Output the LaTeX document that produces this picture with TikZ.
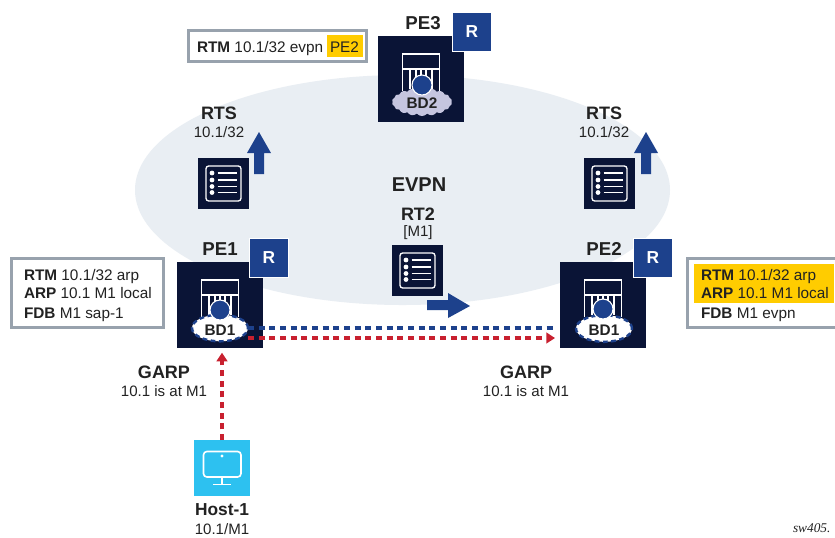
\documentclass[tikz,border=0pt]{standalone}
\usepackage{fontspec}
\setmainfont{Liberation Sans}
\newfontfamily\serifit{Liberation Serif}
\usetikzlibrary{shapes.symbols,shapes.geometric,arrows.meta}
\definecolor{navy}{HTML}{0A1436}
\definecolor{rblue}{HTML}{1D418C}
\definecolor{evpn}{HTML}{E9EEF3}
\definecolor{lav}{HTML}{C5C5DF}
\definecolor{hostc}{HTML}{2DC1F0}
\definecolor{boxgray}{HTML}{98A2AD}
\definecolor{hl}{HTML}{FFCC00}
\definecolor{redl}{HTML}{C8202F}
\definecolor{txt}{HTML}{222222}
\tikzset{
  x=0.75pt,y=-0.75pt,
  every node/.style={text=txt,inner sep=0pt,outer sep=0pt},
  lbl/.style={font=\fontsize{11.3pt}{13pt}\selectfont,align=center},
  pelbl/.style={font=\fontsize{14pt}{16pt}\selectfont\bfseries},
  rtslbl/.style={font=\fontsize{13.5pt}{16pt}\selectfont\bfseries},
  garp/.style={font=\fontsize{13.5pt}{16pt}\selectfont\bfseries},
  infobox/.style={draw=boxgray,line width=2.2pt,fill=white},
  infotext/.style={font=\fontsize{11.5pt}{13pt}\selectfont,anchor=base west},
  pebox/.style={fill=navy,minimum width=64.5pt,minimum height=64.5pt},
  rbox/.style={fill=rblue,draw=white,line width=0.6pt,minimum width=29.5pt,minimum height=29.5pt,
     text=white,font=\fontsize{13pt}{15pt}\selectfont\bfseries},
  iconbox/.style={fill=navy,minimum width=38.5pt,minimum height=38.5pt},
  hostbox/.style={fill=hostc,minimum width=42pt,minimum height=42pt},
  bdlocal/.style={ellipse,fill=white,draw=rblue,line width=1.8pt,dash pattern=on 3.6pt off 2.6pt,
     minimum width=42pt,minimum height=20pt},
  bdcloud/.style={cloud,cloud puffs=18,cloud puff arc=100,aspect=2.2,fill=lav,
     minimum width=45pt,minimum height=21pt},
  bdtext/.style={font=\fontsize{11.5pt}{13pt}\selectfont\bfseries},
  bluelink/.style={draw=rblue,line width=2.4pt,dash pattern=on 4.5pt off 3.5pt},
  redlink/.style={draw=redl,line width=2.4pt,dash pattern=on 4.5pt off 3.5pt,-{Triangle[length=6.5pt,width=8pt]}},
  pics/building/.style={code={
    \draw[white,line width=0.9pt] (-18.5,12) -- (-18.5,-25) -- (18.5,-25) -- (18.5,12);
    \draw[white,line width=0.9pt] (-18.5,-10) -- (18.5,-10);
    \foreach \dx in {-11,-5,5,11} \draw[white,line width=0.9pt] (\dx,-10) -- (\dx,10);
    \draw[white,line width=0.9pt] (0,-10) -- (0,-4);
  }},
  pics/listicon/.style={code={
    \draw[white,line width=1pt,rounded corners=2pt] (-17.5,-17.5) rectangle (17.5,17.5);
    \foreach \dy in {-10.5,-3.5,3,9}{
      \fill[white] (-11.5,\dy) circle [radius=1.8pt];
      \draw[white,line width=0.9pt] (-6,\dy) -- (13.5,\dy);
    }
  }},
  pics/uparrow/.style={code={
    \fill[rblue] (0,-21) -- (12,0) -- (5,0) -- (5,21) -- (-5,21) -- (-5,0) -- (-12,0) -- cycle;
  }},
}
\begin{document}
\begin{tikzpicture}
\useasboundingbox (0,0) rectangle (835,537);
\fill[white] (0,0) rectangle (835,537);
\fill[evpn] (402.5,190) ellipse [x radius=267.5,y radius=115];

% info boxes
\node[infobox,minimum width=133.5pt,minimum height=23.3pt] (infoThree) at (277.5,46) {};
\fill[hl] (327,35) rectangle (363,57);
\node[infotext] at (197,52) {\textbf{RTM} 10.1/32 evpn};
\node[infotext] at (330,52) {PE2};

\node[infobox,minimum width=114pt,minimum height=52pt] (infoOne) at (87.5,293) {};
\node[infotext] at (24,280) {\textbf{RTM} 10.1/32 arp};
\node[infotext] at (24,298) {\textbf{ARP} 10.1 M1 local};
\node[infotext] at (24,318) {\textbf{FDB} M1 sap-1};

\node[infobox,minimum width=116pt,minimum height=52pt] (infoTwo) at (765,293) {};
\fill[hl] (694,264) rectangle (834,303);
\node[infotext] at (701,280) {\textbf{RTM} 10.1/32 arp};
\node[infotext] at (701,298) {\textbf{ARP} 10.1 M1 local};
\node[infotext] at (701,318) {\textbf{FDB} M1 evpn};

% PE3
\node[pebox] (pe3) at (421,79) {};
\pic at (421,79) {building};
\node[bdcloud] (bd2) at (422,102) {};
\fill[rblue,draw=white,line width=0.8pt] (422,85) circle [radius=7.5pt];
\node[bdtext] at (422,103.5) {BD2};
\node[rbox] (r3) at (472,32) {R};
\node[pelbl] (pe3t) at (423,23) {PE3};

% PE1
\node[pebox] (pe1) at (220,305) {};
\pic at (220,305) {building};
\node[bdlocal] (bd1) at (220,328) {};
\fill[rblue,draw=white,line width=0.8pt] (220,310) circle [radius=7.5pt];
\node[bdtext] at (220,330) {BD1};
\node[rbox] (r1) at (269,258) {R};
\node[pelbl] (pe1t) at (220,249) {PE1};

% PE2
\node[pebox] (pe2) at (603,305) {};
\pic at (603,305) {building};
\node[bdlocal] (bd1b) at (604,328.5) {};
\fill[rblue,draw=white,line width=0.8pt] (603,309) circle [radius=7.5pt];
\node[bdtext] at (604,330) {BD1};
\node[rbox] (r2) at (653,258) {R};
\node[pelbl] (pe2t) at (604,249) {PE2};

% list icons
\node[iconbox] (rtsl) at (223.5,183.5) {};
\pic at (223.5,183.5) {listicon};
\pic at (259,153) {uparrow};
\node[rtslbl] at (219,113) {RTS};
\node[lbl] at (219,132) {10.1/32};

\node[iconbox] (rtsr) at (609.5,183.5) {};
\pic at (609.5,183.5) {listicon};
\pic at (646,153) {uparrow};
\node[rtslbl] at (604,113) {RTS};
\node[lbl] at (604,132) {10.1/32};

\node[font=\fontsize{15pt}{17pt}\selectfont\bfseries] at (419,185) {EVPN};
\node[rtslbl] at (418,214) {RT2};
\node[lbl] at (418,233) {[M1]};
\node[iconbox] (rt2) at (417.5,270.5) {};
\pic at (417.5,270.5) {listicon};
\fill[rblue] (427,300) -- (448,300) -- (448,293) -- (470,306) -- (448,318) -- (448,310) -- (427,310) -- cycle;

% host
\node[hostbox] (host) at (222,468) {};
\draw[white,line width=1.2pt,rounded corners=2.5pt] (203.5,451.5) rectangle (241,477);
\fill[white] (222,456) circle [radius=1.3pt];
\draw[white,line width=1.2pt] (222,477) -- (222,484.5) (213,484.5) -- (231,484.5);
\node[font=\fontsize{13pt}{15pt}\selectfont\bfseries] at (222,510) {Host-1};
\node[lbl] at (222,529) {10.1/M1};

% connectors
\coordinate (blueEnd) at (556,328);
\coordinate (redStart) at (248,338);
\coordinate (redEnd) at (555,338);
\draw[bluelink] (bd1.east) -- (blueEnd);
\draw[redlink] (redStart) -- (redEnd);
\draw[redlink] (host.north) -- ([yshift=-3.5pt]host.north |- pe1.south);

\node[garp] at (164,372) {GARP};
\node[lbl] at (164,391) {10.1 is at M1};
\node[garp] at (526,372) {GARP};
\node[lbl] at (526,391) {10.1 is at M1};

\node[font=\fontsize{10pt}{12pt}\serifit\itshape,anchor=west] at (793,528) {sw405.};
\end{tikzpicture}
\end{document}
